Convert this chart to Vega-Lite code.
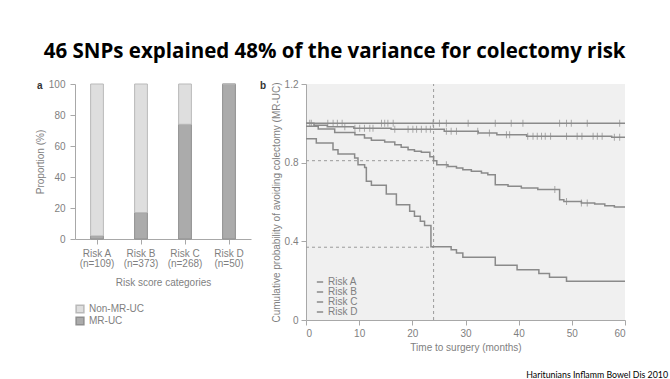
{
  "$schema": "https://vega.github.io/schema/vega-lite/v6.json",
  "background": "white",
  "padding": {"left": 35, "top": 41, "right": 2, "bottom": 0},
  "title": {"text": "46 SNPs explained 48% of the variance for colectomy risk", "font": "Open Sans", "fontSize": 20.5, "fontWeight": "bold", "color": "#000000", "anchor": "middle", "offset": 17, "dx": -17},
  "datasets": {
    "bars": [
      {"cat": "Risk A|(n=109)", "group": "MR-UC", "pct": 2},
      {"cat": "Risk A|(n=109)", "group": "Non-MR-UC", "pct": 98},
      {"cat": "Risk B|(n=373)", "group": "MR-UC", "pct": 17},
      {"cat": "Risk B|(n=373)", "group": "Non-MR-UC", "pct": 83},
      {"cat": "Risk C|(n=268)", "group": "MR-UC", "pct": 74},
      {"cat": "Risk C|(n=268)", "group": "Non-MR-UC", "pct": 26},
      {"cat": "Risk D|(n=50)", "group": "MR-UC", "pct": 100},
      {"cat": "Risk D|(n=50)", "group": "Non-MR-UC", "pct": 0}
    ],
    "curves": [
      {"risk": "Risk A", "t": 0, "s": 1.0},
      {"risk": "Risk A", "t": 60, "s": 1.0},
      {"risk": "Risk B", "t": 0, "s": 1.0},
      {"risk": "Risk B", "t": 1.5, "s": 0.99},
      {"risk": "Risk B", "t": 4, "s": 0.982},
      {"risk": "Risk B", "t": 9, "s": 0.975},
      {"risk": "Risk B", "t": 16, "s": 0.97},
      {"risk": "Risk B", "t": 26, "s": 0.96},
      {"risk": "Risk B", "t": 32.4, "s": 0.951},
      {"risk": "Risk B", "t": 35.9, "s": 0.942},
      {"risk": "Risk B", "t": 41.5, "s": 0.934},
      {"risk": "Risk B", "t": 57.5, "s": 0.929},
      {"risk": "Risk B", "t": 60, "s": 0.929},
      {"risk": "Risk C", "t": 0, "s": 0.985},
      {"risk": "Risk C", "t": 2.3, "s": 0.971},
      {"risk": "Risk C", "t": 5.4, "s": 0.954},
      {"risk": "Risk C", "t": 9.2, "s": 0.942},
      {"risk": "Risk C", "t": 11.0, "s": 0.925},
      {"risk": "Risk C", "t": 12.3, "s": 0.914},
      {"risk": "Risk C", "t": 14.8, "s": 0.905},
      {"risk": "Risk C", "t": 16.7, "s": 0.891},
      {"risk": "Risk C", "t": 17.9, "s": 0.878},
      {"risk": "Risk C", "t": 19.2, "s": 0.866},
      {"risk": "Risk C", "t": 20.4, "s": 0.858},
      {"risk": "Risk C", "t": 21.7, "s": 0.853},
      {"risk": "Risk C", "t": 23.3, "s": 0.83},
      {"risk": "Risk C", "t": 24.0, "s": 0.81},
      {"risk": "Risk C", "t": 24.6, "s": 0.79},
      {"risk": "Risk C", "t": 26.7, "s": 0.781},
      {"risk": "Risk C", "t": 28.3, "s": 0.773},
      {"risk": "Risk C", "t": 29.5, "s": 0.764},
      {"risk": "Risk C", "t": 31.1, "s": 0.756},
      {"risk": "Risk C", "t": 33.0, "s": 0.747},
      {"risk": "Risk C", "t": 34.2, "s": 0.739},
      {"risk": "Risk C", "t": 35.6, "s": 0.688},
      {"risk": "Risk C", "t": 38.0, "s": 0.68},
      {"risk": "Risk C", "t": 40.5, "s": 0.671},
      {"risk": "Risk C", "t": 43.6, "s": 0.663},
      {"risk": "Risk C", "t": 47.7, "s": 0.612},
      {"risk": "Risk C", "t": 48.5, "s": 0.603},
      {"risk": "Risk C", "t": 51.8, "s": 0.595},
      {"risk": "Risk C", "t": 54.3, "s": 0.59},
      {"risk": "Risk C", "t": 56.2, "s": 0.581},
      {"risk": "Risk C", "t": 58.0, "s": 0.575},
      {"risk": "Risk C", "t": 60, "s": 0.575},
      {"risk": "Risk D", "t": 0, "s": 0.922},
      {"risk": "Risk D", "t": 1.94, "s": 0.9},
      {"risk": "Risk D", "t": 5.08, "s": 0.866},
      {"risk": "Risk D", "t": 6.02, "s": 0.844},
      {"risk": "Risk D", "t": 9.15, "s": 0.824},
      {"risk": "Risk D", "t": 9.78, "s": 0.79},
      {"risk": "Risk D", "t": 11.03, "s": 0.776},
      {"risk": "Risk D", "t": 11.35, "s": 0.705},
      {"risk": "Risk D", "t": 12.3, "s": 0.685},
      {"risk": "Risk D", "t": 15.1, "s": 0.641},
      {"risk": "Risk D", "t": 17.0, "s": 0.586},
      {"risk": "Risk D", "t": 19.5, "s": 0.553},
      {"risk": "Risk D", "t": 20.4, "s": 0.527},
      {"risk": "Risk D", "t": 21.5, "s": 0.502},
      {"risk": "Risk D", "t": 22.3, "s": 0.481},
      {"risk": "Risk D", "t": 23.5, "s": 0.372},
      {"risk": "Risk D", "t": 27.3, "s": 0.357},
      {"risk": "Risk D", "t": 28.3, "s": 0.341},
      {"risk": "Risk D", "t": 29.5, "s": 0.319},
      {"risk": "Risk D", "t": 35.6, "s": 0.278},
      {"risk": "Risk D", "t": 39.7, "s": 0.256},
      {"risk": "Risk D", "t": 43.8, "s": 0.236},
      {"risk": "Risk D", "t": 45.8, "s": 0.217},
      {"risk": "Risk D", "t": 49.0, "s": 0.197},
      {"risk": "Risk D", "t": 60, "s": 0.197}
    ],
    "censor": [
      {"t": 0.7, "s": 1.0}, {"t": 1.0, "s": 1.0}, {"t": 4.1, "s": 1.0}, {"t": 5.1, "s": 1.0},
      {"t": 5.9, "s": 1.0}, {"t": 6.8, "s": 1.0}, {"t": 14.2, "s": 1.0}, {"t": 14.8, "s": 1.0},
      {"t": 15.4, "s": 1.0}, {"t": 16.4, "s": 1.0}, {"t": 23.9, "s": 1.0}, {"t": 25.1, "s": 1.0},
      {"t": 26.4, "s": 1.0}, {"t": 30.5, "s": 1.0}, {"t": 35.6, "s": 1.0}, {"t": 38.6, "s": 1.0},
      {"t": 40.8, "s": 1.0}, {"t": 47.7, "s": 1.0}, {"t": 49.0, "s": 1.0}, {"t": 49.9, "s": 1.0},
      {"t": 52.9, "s": 1.0}, {"t": 59.0, "s": 1.0},
      {"t": 7.3, "s": 0.982}, {"t": 9.2, "s": 0.975}, {"t": 10.1, "s": 0.975}, {"t": 11.0, "s": 0.975},
      {"t": 12.0, "s": 0.975}, {"t": 12.6, "s": 0.975}, {"t": 16.7, "s": 0.97}, {"t": 19.2, "s": 0.97},
      {"t": 20.1, "s": 0.97}, {"t": 20.8, "s": 0.97}, {"t": 21.7, "s": 0.97}, {"t": 22.6, "s": 0.97},
      {"t": 23.4, "s": 0.97}, {"t": 26.4, "s": 0.96}, {"t": 27.3, "s": 0.96}, {"t": 28.3, "s": 0.96},
      {"t": 32.3, "s": 0.96}, {"t": 34.5, "s": 0.951}, {"t": 37.7, "s": 0.942}, {"t": 38.3, "s": 0.942},
      {"t": 41.7, "s": 0.934}, {"t": 42.7, "s": 0.934}, {"t": 43.5, "s": 0.934}, {"t": 44.3, "s": 0.934},
      {"t": 45.0, "s": 0.934}, {"t": 46.0, "s": 0.934}, {"t": 49.0, "s": 0.934}, {"t": 51.0, "s": 0.934},
      {"t": 51.9, "s": 0.934}, {"t": 54.0, "s": 0.934}, {"t": 54.8, "s": 0.934}, {"t": 55.7, "s": 0.934},
      {"t": 58.0, "s": 0.929}, {"t": 59.0, "s": 0.929},
      {"t": 26.4, "s": 0.79}, {"t": 46.8, "s": 0.663}, {"t": 49.0, "s": 0.603}, {"t": 51.8, "s": 0.595},
      {"t": 52.9, "s": 0.595}
    ],
    "vref": [{"t": 24, "y1": 0, "y2": 1.2}],
    "href": [{"x1": 0, "x2": 24, "s": 0.81}, {"x1": 0, "x2": 24, "s": 0.37}]
  },
  "vconcat": [
    {
      "title": {"text": "Haritunians Inflamm Bowel Dis 2010", "orient": "bottom", "anchor": "end", "font": "Lato", "fontSize": 8.8, "fontWeight": "normal", "color": "#000000", "offset": 18, "dx": 40, "dy": 1},
      "spacing": 9,
      "resolve": {"scale": {"color": "independent", "fill": "independent", "stroke": "independent"}, "legend": {"color": "independent", "fill": "independent", "stroke": "independent"}},
      "hconcat": [
        {
          "width": 176,
          "height": 155,
          "title": {"text": "a", "anchor": "start", "frame": "group", "font": "Liberation Sans", "fontSize": 10, "fontWeight": "bold", "color": "#333333", "dx": -38, "offset": -12},
          "data": {"name": "bars"},
          "mark": {"type": "bar", "strokeWidth": 1},
          "encoding": {
            "x": {"field": "cat", "type": "nominal", "sort": null,
              "scale": {"paddingInner": 0.71, "paddingOuter": 0.355},
              "axis": {"title": "Risk score categories", "labelAngle": 0, "labelExpr": "split(datum.label, '|')", "labelLineHeight": 10.5, "labelPadding": 4, "titlePadding": 9}},
            "y": {"field": "pct", "type": "quantitative", "stack": "zero",
              "scale": {"domain": [0, 100]},
              "axis": {"title": "Proportion (%)", "values": [0, 20, 40, 60, 80, 100], "labelPadding": 5, "titlePadding": 3}},
            "fill": {"field": "group", "type": "nominal",
              "scale": {"domain": ["Non-MR-UC", "MR-UC"], "range": ["#dedede", "#ababab"]},
              "legend": {"orient": "bottom", "direction": "vertical", "title": null, "symbolType": "square", "symbolSize": 60, "offset": 15, "rowPadding": 0, "clipHeight": 12}},
            "stroke": {"field": "group", "type": "nominal",
              "scale": {"domain": ["Non-MR-UC", "MR-UC"], "range": ["#b9b9b9", "#8f8f8f"]},
              "legend": {"orient": "bottom", "direction": "vertical", "title": null, "symbolType": "square", "symbolSize": 60, "offset": 15, "rowPadding": 0, "clipHeight": 12}},
            "order": {"field": "group", "sort": "ascending"}
          }
        },
        {
          "width": 319,
          "height": 236,
          "title": {"text": "b", "anchor": "start", "frame": "group", "font": "Liberation Sans", "fontSize": 10, "fontWeight": "bold", "color": "#333333", "dx": -46, "offset": -12},
          "view": {"fill": "#f0f0f0", "stroke": null},
          "layer": [
            {
              "data": {"name": "vref"},
              "mark": {"type": "rule", "strokeDash": [3, 3], "color": "#9a9a9a", "strokeWidth": 1},
              "encoding": {
                "x": {"field": "t", "type": "quantitative"},
                "y": {"field": "y1", "type": "quantitative"},
                "y2": {"field": "y2"}
              }
            },
            {
              "data": {"name": "href"},
              "mark": {"type": "rule", "strokeDash": [3, 3], "color": "#9a9a9a", "strokeWidth": 1},
              "encoding": {
                "x": {"field": "x1", "type": "quantitative"},
                "x2": {"field": "x2"},
                "y": {"field": "s", "type": "quantitative"}
              }
            },
            {
              "data": {"name": "curves"},
              "mark": {"type": "line", "interpolate": "step-after", "strokeWidth": 1.5},
              "encoding": {
                "x": {"field": "t", "type": "quantitative", "scale": {"domain": [0, 60]},
                  "axis": {"title": "Time to surgery (months)", "values": [0, 10, 20, 30, 40, 50, 60], "labelPadding": 3, "titlePadding": 4}},
                "y": {"field": "s", "type": "quantitative", "scale": {"domain": [0, 1.2]},
                  "axis": {"title": "Cumulative probability of avoiding colectomy (MR-UC)", "values": [0, 0.2, 0.4, 0.6, 0.8, 1.0, 1.2], "labelExpr": "datum.value == 0 ? '0' : format(datum.value, '.1f')", "labelPadding": 3, "titlePadding": 3}},
                "color": {"field": "risk", "type": "nominal",
                  "scale": {"range": ["#8a8a8a", "#8a8a8a", "#8a8a8a", "#8a8a8a"]},
                  "legend": {"orient": "bottom-left", "offset": 3, "symbolOffset": 6, "title": null, "symbolType": "stroke", "symbolSize": 40, "symbolStrokeWidth": 1.5, "rowPadding": 0, "labelOffset": 3}}
              }
            },
            {
              "data": {"name": "censor"},
              "mark": {"type": "tick", "orient": "vertical", "size": 7, "thickness": 1, "color": "#8a8a8a"},
              "encoding": {
                "x": {"field": "t", "type": "quantitative"},
                "y": {"field": "s", "type": "quantitative"}
              }
            }
          ]
        }
      ]
    }
  ],
  "config": {
    "font": "Liberation Sans",
    "view": {"stroke": null},
    "axis": {"labelFont": "Liberation Sans", "labelFontSize": 10, "labelColor": "#7f7f7f", "titleFont": "Liberation Sans", "titleFontSize": 10, "titleFontWeight": "normal", "titleColor": "#7f7f7f", "domainColor": "#a8a8a8", "tickColor": "#a8a8a8", "tickSize": 5, "grid": false},
    "legend": {"labelFont": "Liberation Sans", "labelFontSize": 10, "labelColor": "#7f7f7f", "padding": 0}
  }
}
